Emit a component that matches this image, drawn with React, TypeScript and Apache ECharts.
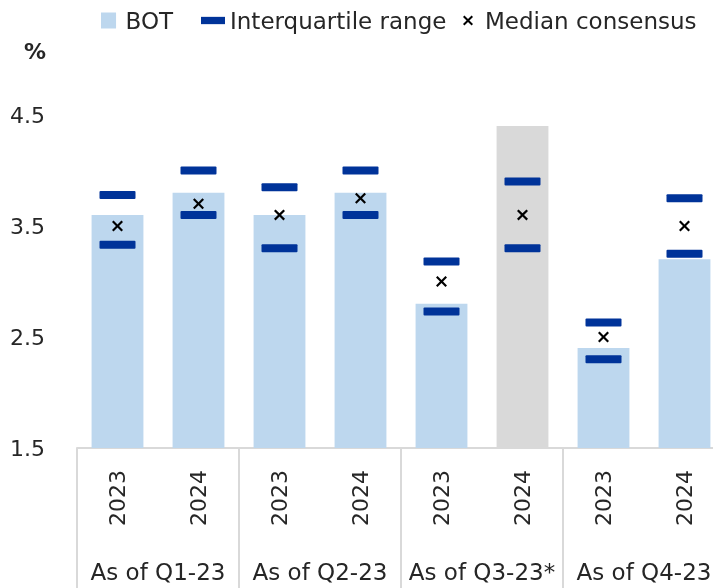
import React, { useEffect, useRef } from "react";
import * as echarts from "echarts";

const years = ["2023", "2024", "2023", "2024", "2023", "2024", "2023", "2024"];
const groups = ["As of Q1-23", "As of Q2-23", "As of Q3-23*", "As of Q4-23"];
const botValues = [3.6, 3.8, 3.6, 3.8, 2.8, 4.4, 2.4, 3.2];
const iqrUpper = [3.78, 4.0, 3.85, 4.0, 3.18, 3.9, 2.63, 3.75];
const iqrLower = [3.33, 3.6, 3.3, 3.6, 2.73, 3.3, 2.3, 3.25];
const medianConsensus = [3.5, 3.7, 3.6, 3.75, 3.0, 3.6, 2.5, 3.5];
const highlightIndex = 5;

const FONT = "DejaVu Sans";
const X_POLY =
  "M0,1.4L1.4,0L5,3.6L8.6,0L10,1.4L6.4,5L10,8.6L8.6,10L5,6.4L1.4,10L0,8.6L3.6,5Z";
const X_SYMBOL = "path://" + X_POLY;
const X_LEGEND = "path://M-7,-3M17,13" + X_POLY;
const BAR_SYMBOL =
  "path://M1,0H35Q36,0 36,1V7Q36,8 35,8H1Q0,8 0,7V1Q0,0 1,0Z";

export default function App() {
  const ref = useRef<HTMLDivElement>(null);
  useEffect(() => {
    if (!ref.current) return;
    const chart = echarts.init(ref.current, null, { renderer: "svg" });
    const legendBase = {
      top: 4,
      itemWidth: 24,
      itemHeight: 16,
      textStyle: { fontFamily: FONT, fontSize: 23, color: "#262626" },
      selectedMode: false,
    };
    chart.setOption({
      animation: false,
      textStyle: { fontFamily: FONT },
      legend: [
        {
          ...legendBase,
          left: 96,
          data: [{ name: "BOT", icon: "path://M0,0h16v17h-16z" }],
        },
        {
          ...legendBase,
          left: 196,
          data: [{ name: "Interquartile range", icon: "path://M0,0h23v7h-23z" }],
        },
        {
          ...legendBase,
          left: 451,
          data: [{ name: "Median consensus", icon: X_LEGEND }],
        },
      ],
      graphic: [
        {
          type: "text",
          left: 24,
          top: 40,
          style: {
            text: "%",
            font: `bold 22px '${FONT}'`,
            fill: "#262626",
          },
        },
      ],
      grid: { left: 77, top: 115, width: 648, height: 333 },
      xAxis: [
        {
          type: "category",
          data: years,
          axisLine: { lineStyle: { color: "#d9d9d9", width: 2 } },
          axisTick: { show: false },
          axisLabel: {
            interval: 0,
            rotate: 90,
            margin: 22,
            fontFamily: FONT,
            fontSize: 22,
            color: "#262626",
          },
        },
        {
          type: "category",
          data: groups,
          position: "bottom",
          axisLine: { show: false },
          axisTick: {
            show: true,
            interval: 0,
            length: 142,
            lineStyle: { color: "#d9d9d9", width: 2 },
          },
          axisLabel: {
            interval: 0,
            margin: 112,
            fontFamily: FONT,
            fontSize: 23,
            color: "#262626",
          },
        },
      ],
      yAxis: {
        type: "value",
        min: 1.5,
        max: 4.5,
        interval: 0.5,
        splitLine: { show: false },
        axisLine: { show: false },
        axisTick: { show: false },
        axisLabel: {
          margin: 32,
          fontFamily: FONT,
          fontSize: 22,
          color: "#262626",
          formatter: (v: number) =>
            Math.abs((v - 1.5) % 1) < 1e-6 ? v.toFixed(1) : "",
        },
      },
      series: [
        {
          name: "BOT",
          type: "bar",
          barWidth: "64%",
          itemStyle: { color: "#bdd7ee" },
          data: botValues.map((v, i) =>
            i === highlightIndex ? { value: v, itemStyle: { color: "#d9d9d9" } } : v
          ),
          z: 1,
        },
        {
          name: "Interquartile range",
          type: "scatter",
          symbol: BAR_SYMBOL,
          symbolSize: [36, 8],
          itemStyle: { color: "#003399", opacity: 1 },
          data: iqrUpper,
          z: 3,
        },
        {
          name: "Interquartile range",
          type: "scatter",
          symbol: BAR_SYMBOL,
          symbolSize: [36, 8],
          itemStyle: { color: "#003399", opacity: 1 },
          data: iqrLower,
          z: 3,
        },
        {
          name: "Median consensus",
          type: "scatter",
          symbol: X_SYMBOL,
          symbolSize: 11,
          itemStyle: { color: "#000000", opacity: 1 },
          data: medianConsensus,
          z: 4,
        },
      ],
    });
    return () => chart.dispose();
  }, []);
  return (
    <div
      style={{
        position: "fixed",
        left: 0,
        top: 0,
        width: 713,
        height: 588,
        overflow: "hidden",
      }}
    >
      <div ref={ref} style={{ width: 730, height: 588 }} />
    </div>
  );
}
